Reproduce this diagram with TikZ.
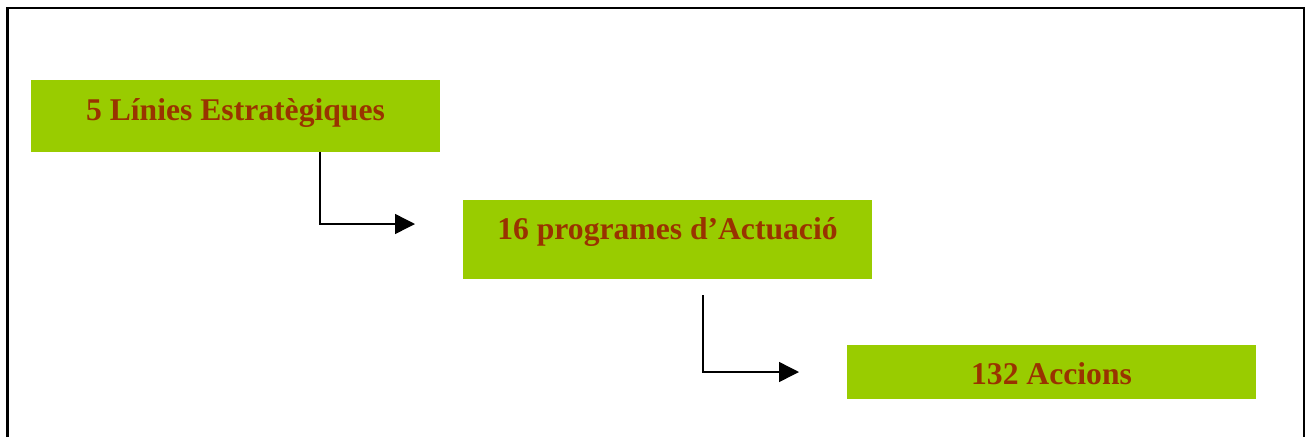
\documentclass[tikz,border=0pt]{standalone}
\usepackage{fontspec}
\setmainfont{Liberation Serif}
\usepackage{xcolor}
\usetikzlibrary{arrows.meta}
\definecolor{verdbloc}{HTML}{99CC00}
\definecolor{textbloc}{HTML}{993300}
\tikzset{
    bloc/.style={fill=verdbloc,inner sep=0pt,minimum width=8.18cm,
        text=textbloc,font=\fontsize{18}{22}\selectfont\bfseries},
    fletxa/.style={line width=0.8pt,-{Triangle[length=0.4cm,width=0.4cm]}}
}
\begin{document}
\begin{tikzpicture}
                \useasboundingbox
                    (0,0) rectangle (26.16,-8.74);
                \path[draw,line width=1.4pt]
                    (0.15,-8.74) -- (0.15,-0.16) -- (26.08,-0.16) -- (26.08,-8.74);
                \node[bloc,minimum height=1.44cm,text height=0.5cm,text depth=0.34cm] (linies)
                    at (4.71,-2.32) {5 Línies Estratègiques};
                \node[bloc,minimum height=1.58cm,text height=0.4cm,text depth=0.4cm] (programes)
                    at (13.35,-4.79) {16 programes d’Actuació};
                \node[bloc,minimum height=1.08cm,text height=0.48cm,text depth=0cm] (accions)
                    at (21.03,-7.44) {132 Accions};
                \coordinate (punta1) at (8.3,-4.48);
                \coordinate (inici2) at (14.06,-5.9);
                \coordinate (punta2) at (15.98,-7.44);
                \draw[fletxa]
                    (linies.south -| 6.4,0) |- (punta1);
                \draw[fletxa]
                    (inici2) |- (punta2);
            \end{tikzpicture}
\end{document}
